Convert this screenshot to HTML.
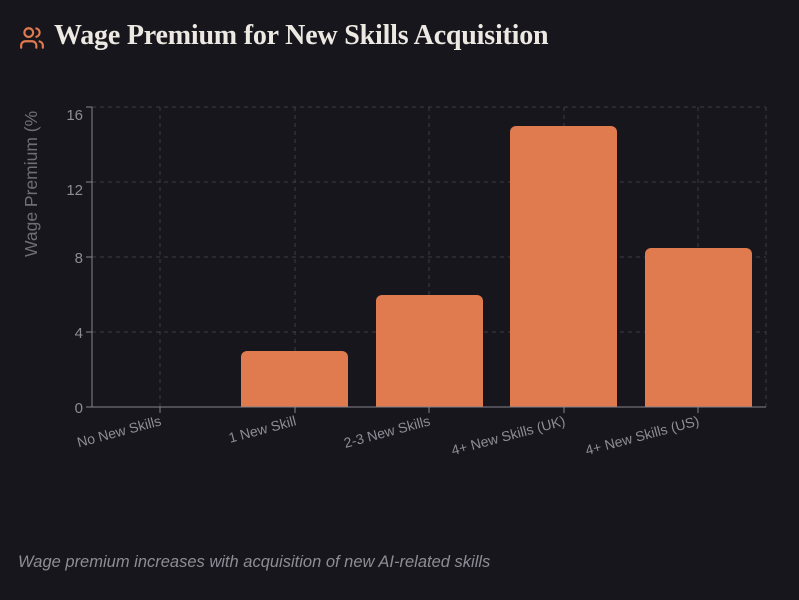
<!DOCTYPE html>
<html><head><meta charset="utf-8"><style>
body{margin:0;width:799px;height:600px;background:#17161c;overflow:hidden;font-family:"Liberation Sans",sans-serif}
.t{position:absolute;left:54px;top:20px;font-family:"Liberation Serif",serif;font-weight:bold;font-size:28px;color:#ece8e2;letter-spacing:-0.2px}
.c{position:absolute;left:18px;top:553px;font-style:italic;font-size:16.5px;color:#8e8c95}
</style></head><body>
<svg style="position:absolute;left:18px;top:25px" width="28" height="26" viewBox="0 0 24 24" fill="none" stroke="#e07a4f" stroke-width="2" stroke-linecap="round"><path d="M16 21v-2a4 4 0 0 0-4-4H6a4 4 0 0 0-4 4v2"/><circle cx="9" cy="7" r="4"/><path d="M22 21v-2a4 4 0 0 0-3-3.87"/><path d="M16 3.13a4 4 0 0 1 0 7.75"/></svg>
<div class="t">Wage Premium for New Skills Acquisition</div>
<svg width="799" height="600" style="position:absolute;left:0;top:0" font-family="Liberation Sans, sans-serif">
<g stroke="#3c3b43" stroke-dasharray="4 4" stroke-width="1">
<line x1="92" x2="766" y1="107" y2="107"/><line x1="92" x2="766" y1="182" y2="182"/><line x1="92" x2="766" y1="257" y2="257"/><line x1="92" x2="766" y1="332" y2="332"/>
<line x1="160" x2="160" y1="107" y2="407"/><line x1="295" x2="295" y1="107" y2="407"/><line x1="429" x2="429" y1="107" y2="407"/><line x1="564" x2="564" y1="107" y2="407"/><line x1="698" x2="698" y1="107" y2="407"/><line x1="766" x2="766" y1="107" y2="407"/>
</g>
<g fill="#e07a4f">
<path d="M241 407V357a6 6 0 0 1 6-6h95a6 6 0 0 1 6 6V407z"/>
<path d="M376 407V301a6 6 0 0 1 6-6h95a6 6 0 0 1 6 6V407z"/>
<path d="M510 407V132a6 6 0 0 1 6-6h95a6 6 0 0 1 6 6V407z"/>
<path d="M645 407V254a6 6 0 0 1 6-6h95a6 6 0 0 1 6 6V407z"/>
</g>
<g stroke="#85848c" stroke-width="1">
<line x1="92" x2="92" y1="107" y2="407"/><line x1="86" x2="766" y1="407" y2="407"/>
<line x1="86" x2="92" y1="107" y2="107"/><line x1="86" x2="92" y1="182" y2="182"/><line x1="86" x2="92" y1="257" y2="257"/><line x1="86" x2="92" y1="332" y2="332"/>
<line x1="160" x2="160" y1="407" y2="413"/><line x1="295" x2="295" y1="407" y2="413"/><line x1="429" x2="429" y1="407" y2="413"/><line x1="564" x2="564" y1="407" y2="413"/><line x1="698" x2="698" y1="407" y2="413"/>
</g>
<g fill="#8e8c95" font-size="15" text-anchor="end">
<text x="83" y="120">16</text><text x="83" y="195">12</text><text x="83" y="263">8</text><text x="83" y="338">4</text><text x="83" y="413">0</text>
</g>
<g fill="#8e8c95" font-size="14" text-anchor="end">
<text transform="translate(162,425) rotate(-15)">No New Skills</text>
<text transform="translate(297,425) rotate(-15)">1 New Skill</text>
<text transform="translate(431,425) rotate(-15)">2-3 New Skills</text>
<text transform="translate(566,425) rotate(-15)">4+ New Skills (UK)</text>
<text transform="translate(700,425) rotate(-15)">4+ New Skills (US)</text>
</g>
<text transform="translate(37,257) rotate(-90)" fill="#6f6e76" font-size="17.5">Wage Premium (%</text>
</svg>
<div class="c">Wage premium increases with acquisition of new AI-related skills</div>
</body></html>
